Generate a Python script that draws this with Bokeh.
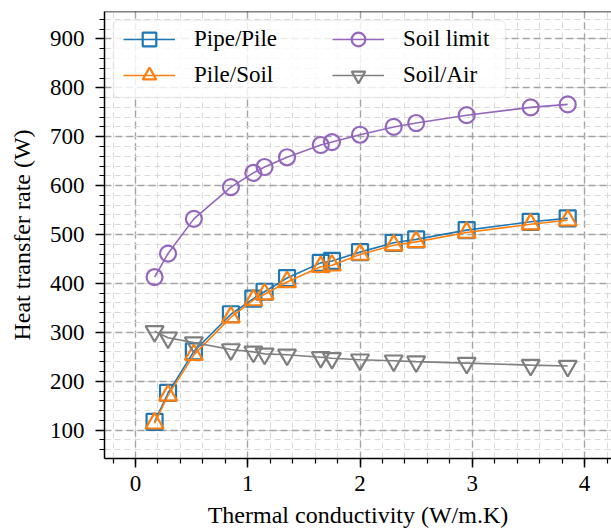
from bokeh.plotting import figure
from bokeh.models import (Range1d, SingleIntervalTicker, Legend, LegendItem,
                          BoxAnnotation, Span, InlineStyleSheet)
from bokeh.embed import file_html
from bokeh.resources import INLINE

# ---- data ----
conductivity = [0.17, 0.29, 0.52, 0.85, 1.05, 1.15, 1.35, 1.65, 1.75, 2.0, 2.3, 2.5, 2.95, 3.52, 3.85]
pipe_pile = [117, 176, 261, 337, 369, 383, 411, 442, 446, 464, 483, 490, 509, 526, 533]
pile_soil = [114, 171, 254, 331, 366, 378, 403, 434, 437, 459, 478, 485, 504, 521, 529]
soil_limit = [413, 461, 532, 597, 626, 638, 658, 683, 689, 704, 720, 728, 744, 760, 766]
soil_air = [302, 289, 279, 265, 260, 256, 254, 249, 247, 244, 242, 240, 237, 233, 231]

series_names = ["Pipe/Pile", "Pile/Soil", "Soil limit", "Soil/Air"]
series_colors = ["#1f77b4", "#ff7f0e", "#9467bd", "#7f7f7f"]
series_markers = ["square", "triangle", "circle", "inverted_triangle"]
series_values = [pipe_pile, pile_soil, soil_limit, soil_air]

x_label = "Thermal conductivity (W/m.K)"
y_label = "Heat transfer rate (W)"

FONT = "Liberation Serif"

serif_css = InlineStyleSheet(css="""
:host, text, svg text, .bk-Canvas text {
  font-family: 'Liberation Serif', 'Times New Roman', serif !important;
}
""")

p = figure(width=611, height=531, output_backend="svg", toolbar_location=None,
           x_range=Range1d(-0.276, 4.24), y_range=Range1d(42, 956),
           min_border_left=104, min_border_right=0, min_border_top=11,
           min_border_bottom=73, stylesheets=[serif_css])
p.outline_line_color = None
p.background_fill_color = "white"
p.border_fill_color = "white"

# axes
p.xaxis.ticker = SingleIntervalTicker(interval=1, num_minor_ticks=5)
p.yaxis.ticker = SingleIntervalTicker(interval=100, num_minor_ticks=5)
for ax in (p.xaxis[0], p.yaxis[0]):
    ax.axis_line_color = "black"
    ax.axis_line_width = 1.5
    ax.major_tick_line_color = "black"
    ax.major_tick_line_width = 1.5
    ax.minor_tick_line_color = "black"
    ax.minor_tick_line_width = 1.2
    ax.major_tick_in = 0
    ax.major_tick_out = 9
    ax.minor_tick_in = 0
    ax.minor_tick_out = 5
    ax.major_label_text_font = FONT
    ax.major_label_text_font_size = "23px"
    ax.major_label_text_font_style = "normal"
    ax.major_label_text_color = "black"
    ax.axis_label_text_font = FONT
    ax.axis_label_text_font_size = "24px"
    ax.axis_label_text_font_style = "normal"
    ax.axis_label_text_color = "black"
p.xaxis.axis_label = x_label
p.yaxis.axis_label = y_label
p.xaxis.major_label_standoff = 8
p.xaxis.axis_label_standoff = 8
p.yaxis.major_label_standoff = 11
p.yaxis.axis_label_standoff = 12

# grids
for g in (p.xgrid[0], p.ygrid[0]):
    g.grid_line_color = "#a4a4a4"
    g.grid_line_dash = "7 4"
    g.grid_line_width = 1.4
    g.minor_grid_line_color = "#dadada"
    g.minor_grid_line_dash = "6 4"
    g.minor_grid_line_width = 1.0

# top spine
p.add_layout(Span(location=956, dimension="width", line_color="black", line_width=1.5))

# series
items = []
for name, color, marker, vals in zip(series_names, series_colors, series_markers, series_values):
    ln = p.line(conductivity, vals, line_color=color, line_width=1.6)
    size = 16 if marker in ("square", "circle") else 18
    sc = p.scatter(conductivity, vals, marker=marker, size=size, line_color=color,
                   line_width=2.2, fill_color=None)
    items.append(LegendItem(label=name, renderers=[ln, sc]))

# legend frame
box = BoxAnnotation(left=9, right=401, top=438, bottom=361,
                    left_units="screen", right_units="screen",
                    top_units="screen", bottom_units="screen",
                    fill_color="white", fill_alpha=0.8,
                    line_color="#cccccc", line_width=1.5, border_radius=5)
p.add_layout(box)

def make_legend(its, x, y):
    lg = Legend(items=its, location=(x, y), orientation="vertical",
                padding=0, spacing=2, margin=0,
                glyph_width=52, glyph_height=34, label_height=34,
                label_standoff=19, label_text_font=FONT,
                label_text_font_size="23px", label_text_font_style="normal",
                label_text_color="black",
                border_line_color=None, background_fill_alpha=0)
    return lg

p.add_layout(make_legend(items[:2], 19, 366))
p.add_layout(make_legend(items[2:], 228, 366))

open("out.html", "w").write(file_html(p, INLINE))
